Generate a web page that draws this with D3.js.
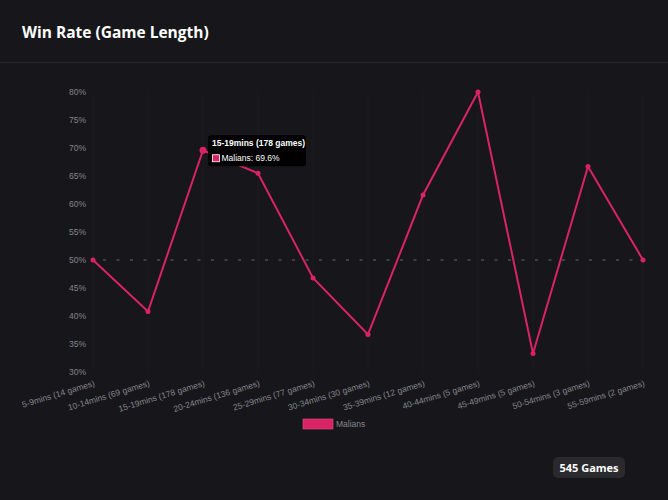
<!DOCTYPE html>
<html>
<head>
<meta charset="utf-8">
<script src="https://cdn.jsdelivr.net/npm/d3@7"></script>
<style>
  html, body { margin: 0; padding: 0; background: #17171b; }
  svg { display: block; }
</style>
</head>
<body>
<div id="chart"></div>
<script>
const categories = ["5-9mins (14 games)", "10-14mins (69 games)", "15-19mins (178 games)", "20-24mins (136 games)",
    "25-29mins (77 games)", "30-34mins (30 games)", "35-39mins (12 games)", "40-44mins (5 games)",
    "45-49mins (5 games)", "50-54mins (3 games)", "55-59mins (2 games)"];
const winRates = [50, 40.8, 69.6, 65.5, 46.8, 36.7, 61.6, 80, 33.3, 66.7, 50];
const yTicks = [30, 35, 40, 45, 50, 55, 60, 65, 70, 75, 80];
const seriesName = "Malians";
const totalGames = "545 Games";
const hoverIndex = 2;

const width = 668, height = 500;
const margin = { top: 92, right: 25, bottom: 128, left: 93 };
const pink = "#d92364";

const svg = d3.select("#chart").append("svg")
    .attr("width", width)
    .attr("height", height)
    .style("font-family", "'Liberation Sans', Arial, sans-serif");

svg.append("rect").attr("width", width).attr("height", height).attr("fill", "#17171b");

// header
svg.append("text")
    .attr("x", 22).attr("y", 38)
    .attr("fill", "#fff")
    .style("font-family", "'Open Sans', sans-serif")
    .style("font-weight", "bold")
    .style("font-size", "15.5px")
    .text("Win Rate (Game Length)");
svg.append("line")
    .attr("x1", 0).attr("x2", width).attr("y1", 62.5).attr("y2", 62.5)
    .attr("stroke", "#26262b");

const x = d3.scalePoint()
    .domain(categories)
    .range([margin.left, width - margin.right]);

const y = d3.scaleLinear()
    .domain([30, 80])
    .range([height - margin.bottom, margin.top]);

// vertical grid lines
svg.append("g")
    .selectAll("line")
    .data(categories)
    .enter().append("line")
    .attr("x1", d => x(d)).attr("x2", d => x(d))
    .attr("y1", y(80)).attr("y2", y(30))
    .attr("stroke", "#1c1c21");

// y axis labels
const yAxis = svg.append("g")
    .attr("transform", `translate(${margin.left - 7},0)`)
    .call(d3.axisLeft(y).tickValues(yTicks).tickSize(0).tickFormat(d => d + "%"));
yAxis.select(".domain").remove();
yAxis.selectAll("text")
    .attr("fill", "#85858b")
    .style("font-size", "8.5px")
    .attr("x", 0);

// x axis labels
const xAxis = svg.append("g")
    .attr("transform", `translate(0,${y(30) + 8})`)
    .call(d3.axisBottom(x).tickSize(0));
xAxis.select(".domain").remove();
xAxis.selectAll("text")
    .attr("fill", "#85858b")
    .style("font-size", "8.5px")
    .style("text-anchor", "end")
    .attr("dy", "0.7em")
    .attr("y", 0)
    .attr("transform", "rotate(-17)");

// 50% reference line
svg.append("line")
    .attr("x1", x(categories[0])).attr("x2", x(categories[categories.length - 1]))
    .attr("y1", y(50)).attr("y2", y(50))
    .attr("stroke", "#64646a")
    .attr("stroke-width", 1)
    .attr("stroke-dasharray", "3,10.5")
    .attr("stroke-dashoffset", -10);

const line = d3.line()
    .x((d, i) => x(categories[i]))
    .y(d => y(d));

svg.append("path")
    .datum(winRates)
    .attr("d", line)
    .attr("fill", "none")
    .attr("stroke", pink)
    .attr("stroke-width", 2);

svg.selectAll(".dot")
    .data(winRates)
    .enter().append("circle")
    .attr("class", "dot")
    .attr("cx", (d, i) => x(categories[i]))
    .attr("cy", d => y(d))
    .attr("r", (d, i) => i === hoverIndex ? 3.5 : 2.5)
    .attr("fill", pink);

// legend
svg.append("rect")
    .attr("x", 303).attr("y", 419)
    .attr("width", 30).attr("height", 10)
    .attr("fill", pink)
    .attr("stroke", "#e0507f")
    .attr("stroke-width", 0.6);
svg.append("text")
    .attr("x", 336).attr("y", 427)
    .attr("fill", "#85858b")
    .style("font-size", "8.5px")
    .text(seriesName);

// tooltip
const tx = x(categories[hoverIndex]) + 5, ty = y(winRates[hoverIndex]) - 15;
const tip = svg.append("g").attr("transform", `translate(${tx},${ty})`);
tip.append("rect")
    .attr("width", 98).attr("height", 31).attr("rx", 3)
    .attr("fill", "#000");
tip.append("text")
    .attr("x", 4).attr("y", 11)
    .attr("fill", "#fff")
    .style("font-size", "8.5px")
    .style("font-weight", "bold")
    .text(categories[hoverIndex]);
tip.append("rect")
    .attr("x", 4.5).attr("y", 19.5)
    .attr("width", 7).attr("height", 7)
    .attr("fill", pink)
    .attr("stroke", "#fff")
    .attr("stroke-width", 0.8);
tip.append("text")
    .attr("x", 13.5).attr("y", 26)
    .attr("fill", "#fff")
    .style("font-size", "8.5px")
    .text(`${seriesName}: ${winRates[hoverIndex]}%`);

// games badge
const badge = svg.append("g").attr("transform", "translate(553,457)");
badge.append("rect")
    .attr("width", 72).attr("height", 21).attr("rx", 5)
    .attr("fill", "#29292e");
badge.append("text")
    .attr("x", 36).attr("y", 14.5)
    .attr("text-anchor", "middle")
    .attr("fill", "#fff")
    .style("font-family", "'Open Sans', sans-serif")
    .style("font-weight", "bold")
    .style("font-size", "11px")
    .text(totalGames);
</script>
</body>
</html>
